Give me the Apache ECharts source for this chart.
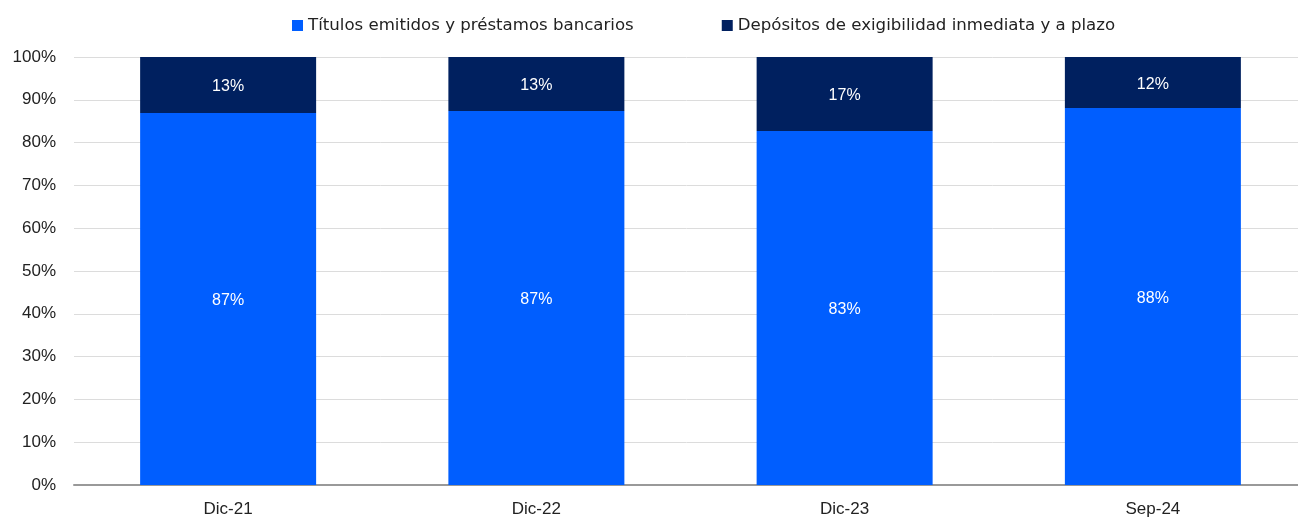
<!DOCTYPE html>
<html>
<head>
<meta charset="utf-8">
<script src="https://cdn.jsdelivr.net/npm/echarts@6/dist/echarts.min.js"></script>
<style>
  html, body { margin: 0; padding: 0; background: #fff; }
  #chart { width: 1298px; height: 518px; }
</style>
</head>
<body>
<div id="chart"></div>
<script>
// periods and shares (%)
var categories = ['Dic-21', 'Dic-22', 'Dic-23', 'Sep-24'];
var titulos = [86.9, 87.4, 82.7, 88.1];
var depositos = [13.1, 12.6, 17.3, 11.9];
var seriesNames = ['Títulos emitidos y préstamos bancarios', 'Depósitos de exigibilidad inmediata y a plazo'];

var font = 'Liberation Sans';
var chart = echarts.init(document.getElementById('chart'));

function pct(p) {
  return Math.round(p.value) + '%';
}

chart.setOption({
  animation: false,
  textStyle: { fontFamily: font },
  legend: {
    left: 287,
    top: 12,
    itemWidth: 11,
    itemHeight: 11,
    itemGap: 88,
    icon: 'rect',
    textStyle: { fontSize: 16.6, color: '#222', fontFamily: 'DejaVu Sans' },
    data: seriesNames
  },
  grid: {
    left: 74,
    top: 57,
    width: 1233,
    height: 428,
    outerBoundsMode: 'none',
    containLabel: false
  },
  xAxis: {
    type: 'category',
    data: categories,
    axisTick: { show: false },
    axisLine: { lineStyle: { color: '#999', width: 2 } },
    axisLabel: { fontSize: 17, color: '#222', margin: 16, fontFamily: font }
  },
  yAxis: {
    type: 'value',
    min: 0,
    max: 100,
    interval: 10,
    axisLabel: { formatter: '{value}%', fontSize: 17, color: '#222', margin: 18, fontFamily: font },
    splitLine: { lineStyle: { color: '#dcdcdc', width: 1 } },
    axisLine: { show: false },
    axisTick: { show: false }
  },
  series: [{
    name: seriesNames[0],
    type: 'bar',
    stack: 'total',
    barWidth: 176,
    data: titulos,
    itemStyle: { color: '#005EFF' },
    label: { show: true, position: 'inside', color: '#fff', fontSize: 16, formatter: pct, fontFamily: font, offset: [0, 2] }
  }, {
    name: seriesNames[1],
    type: 'bar',
    stack: 'total',
    barWidth: 176,
    data: depositos,
    itemStyle: { color: '#00205F' },
    label: { show: true, position: 'inside', color: '#fff', fontSize: 16, formatter: pct, fontFamily: font, offset: [0, 2] }
  }]
});
</script>
</body>
</html>
